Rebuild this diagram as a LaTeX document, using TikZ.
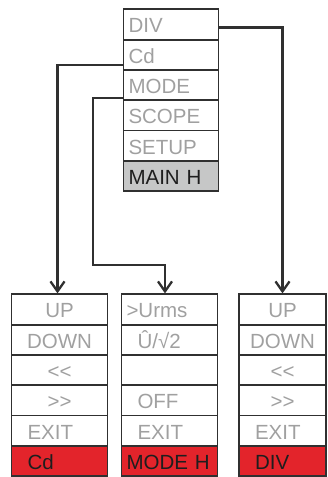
\documentclass[tikz,border=0pt]{standalone}
\usepackage{fontspec}
\setmainfont{Liberation Sans}
\usetikzlibrary{arrows.meta}
\definecolor{lineDark}{HTML}{303030}
\definecolor{menuGray}{HTML}{A0A0A0}
\definecolor{mainGray}{HTML}{C6C7C7}
\definecolor{hotRed}{HTML}{E3242B}
\definecolor{labelDark}{HTML}{1E1E1E}

\begin{document}
\begin{tikzpicture}[x=1pt, y=-1pt, >={Straight Barb[length=10pt, width=14pt]}]

    \useasboundingbox (0,0) rectangle (327,477);

    % --- 1. Styles ---
    \tikzstyle{cell}=[draw=lineDark, line width=1.8pt, minimum height=30.3pt, inner ysep=0pt,
        text height=17pt, text depth=0pt, font=\fontsize{20.5}{24}\selectfont, text=menuGray]
    \tikzset{
        ccell/.style={cell, minimum width=#1},
        icell/.style={cell, inner xsep=16pt, text width=#1, align=left},
        lcell/.style={cell, inner xsep=5pt, text width=#1, align=left},
        hot/.style={fill=hotRed, text=labelDark}
    }
    \tikzstyle{conn}=[draw=lineDark, line width=2.3pt, ->]


    % --- 2. Main menu ---
    \foreach \lab [count=\i] in {DIV, Cd, MODE, SCOPE, SETUP}
        \node[lcell=85pt] (top\i) at (171, {9.3+30.3*(\i-0.5)}) {\lab};
    \node[lcell=85pt, fill=mainGray, text=labelDark] (top6) at (171, {9.3+30.3*5.5}) {MAIN H};


    % --- 3. Sub menus ---
    % Cd menu (left)
    \foreach \lab [count=\i] in {UP, DOWN, <\kern0pt<, >\kern0pt>}
        \node[ccell=96pt] (lt\i) at (59.5, {294.3+30.3*(\i-0.5)}) {\lab};
    \node[icell=64pt] (lt5) at (59.5, {294.3+30.3*4.5}) {EXIT};
    \node[icell=64pt, hot] (lt6) at (59.5, {294.3+30.3*5.5}) {Cd};

    % MODE menu (middle)
    \node[lcell=86pt] (mt1) at (169.5, {294.3+30.3*0.5}) {>Urms};
    \foreach \lab [count=\i from 2] in {Û/√2, {}, OFF, EXIT}
        \node[icell=64pt] (mt\i) at (169.5, {294.3+30.3*(\i-0.5)}) {\lab};
    \node[lcell=86pt, hot] (mt6) at (169.5, {294.3+30.3*5.5}) {MODE H};

    % DIV menu (right)
    \foreach \lab [count=\i] in {UP, DOWN, <\kern0pt<, >\kern0pt>}
        \node[ccell=87pt] (rt\i) at (282.5, {294.3+30.3*(\i-0.5)}) {\lab};
    \node[icell=55pt] (rt5) at (282.5, {294.3+30.3*4.5}) {EXIT};
    \node[icell=55pt, hot] (rt6) at (282.5, {294.3+30.3*5.5}) {DIV};


    % --- 4. Connectors ---
    \coordinate (bend) at (93.3, 265.3);
    \draw[conn] ([yshift=-3pt]top1.east) -| (rt1.north);
    \draw[conn] ([yshift=-10pt]top2.west) -| ([xshift=-2pt]lt1.north);
    \draw[conn] ([yshift=-13pt]top3.west) -| (bend) -| ([xshift=-4.5pt]mt1.north);

\end{tikzpicture}
\end{document}
